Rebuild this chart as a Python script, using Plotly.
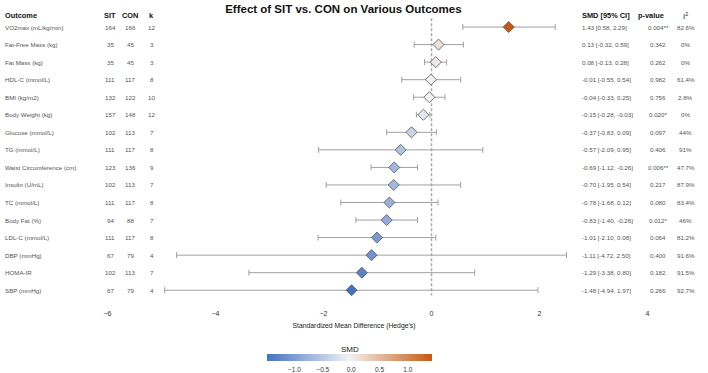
import plotly.graph_objects as go

outcomes = ["VO2max (mL/kg/min)", "Fat-Free Mass (kg)", "Fat Mass (kg)", "HDL-C (mmol/L)",
            "BMI (kg/m2)", "Body Weight (kg)", "Glucose (mmol/L)", "TG (mmol/L)",
            "Waist Circumference (cm)", "Insulin (U/mL)", "TC (mmol/L)", "Body Fat (%)",
            "LDL-C (mmol/L)", "DBP (mmHg)", "HOMA-IR", "SBP (mmHg)"]
sit_n = [164, 35, 35, 111, 132, 157, 102, 111, 123, 102, 111, 94, 111, 67, 102, 67]
con_n = [166, 45, 45, 117, 122, 148, 113, 117, 136, 113, 117, 88, 117, 79, 113, 79]
k_n = [12, 3, 3, 8, 10, 12, 7, 8, 9, 7, 8, 7, 8, 4, 7, 4]
smd = [1.43, 0.13, 0.08, -0.01, -0.04, -0.15, -0.37, -0.57, -0.69, -0.70, -0.78, -0.83,
       -1.01, -1.11, -1.29, -1.48]
ci_low = [0.58, -0.32, -0.13, -0.55, -0.33, -0.28, -0.83, -2.09, -1.12, -1.95, -1.68, -1.40,
          -2.10, -4.72, -3.38, -4.94]
ci_high = [2.29, 0.59, 0.28, 0.54, 0.25, -0.03, 0.09, 0.95, -0.26, 0.54, 0.12, -0.26,
           0.08, 2.50, 0.80, 1.97]
p_values = ["0.004**", "0.342", "0.262", "0.982", "0.756", "0.020*", "0.097", "0.406",
            "0.006**", "0.217", "0.080", "0.012*", "0.064", "0.400", "0.182", "0.266"]
i2_values = ["82.6%", "0%", "0%", "61.4%", "2.8%", "0%", "44%", "91%", "47.7%", "87.9%",
             "83.4%", "46%", "81.2%", "91.6%", "91.5%", "92.7%"]
x_ticks = [-6, -4, -2, 0, 2, 4]
cbar_ticks = [-1.0, -0.5, 0.0, 0.5, 1.0]

FONT = "Arial, Liberation Sans, sans-serif"
rows = list(range(len(outcomes)))
HEADER_Y = -0.64

# column x positions (data units)
X_OUT, X_SIT, X_CON, X_K = -7.94, -5.95, -5.58, -5.18
X_SMD, X_P_HEAD, X_P, X_I2 = 2.75, 4.06, 4.20, 4.71

fig = go.Figure()

fig.add_shape(type="line", x0=0, x1=0, y0=-0.5, y1=15.3, xref="x", yref="y",
              line=dict(color="#aaaaaa", width=1.5, dash="3px,2px"), layer="below")

fig.add_trace(go.Scatter(
    x=smd, y=rows, mode="markers",
    error_x=dict(type="data", symmetric=False,
                 array=[h - s for h, s in zip(ci_high, smd)],
                 arrayminus=[s - l for s, l in zip(smd, ci_low)],
                 color="#a0a0a0", thickness=1, width=3),
    marker=dict(symbol="diamond", size=8.5, color=smd,
                cmin=min(smd), cmax=max(smd),
                colorscale=[[0, "#4472C4"], [0.5, "#f2f2f2"], [1, "#C55A11"]],
                line=dict(color="#555555", width=0.8),
                showscale=True,
                colorbar=dict(orientation="h", lenmode="pixels", len=165, thickness=6.5,
                              x=0.494, xanchor="center", y=-0.1864, yanchor="top",
                              yref="paper", ypad=0, xpad=0, outlinewidth=0,
                              tickvals=cbar_ticks, tickformat=".1f",
                              ticks="outside", ticklen=4, tickcolor="rgba(255,255,255,0)",
                              tickfont=dict(size=6.5, color="#333", family=FONT))),
    hoverinfo="skip", showlegend=False))

def add_text(xpos, ys, texts, anchor, size=6.2, color="#555", bold=False, xref="x", yref="y"):
    for yv, t in zip(ys, texts):
        fig.add_annotation(x=xpos, y=yv, xref=xref, yref=yref, text=f"<b>{t}</b>" if bold else str(t),
                           showarrow=False, xanchor=anchor, yanchor="middle",
                           font=dict(size=size, color=color, family=FONT))

add_text(X_OUT, rows, outcomes, "left")
add_text(X_SIT, rows, sit_n, "center")
add_text(X_CON, rows, con_n, "center")
add_text(X_K, rows, k_n, "center")
add_text(X_SMD, rows, [f"{s:.2f} [{l:.2f}, {h:.2f}]" for s, l, h in zip(smd, ci_low, ci_high)], "left")
add_text(X_P, rows, p_values, "center")
add_text(X_I2, rows, i2_values, "center")

hdr = dict(size=7.4, color="#111", bold=True)
add_text(X_OUT, [HEADER_Y], ["Outcome"], "left", **hdr)
add_text(X_SIT, [HEADER_Y], ["SIT"], "center", **hdr)
add_text(X_CON, [HEADER_Y], ["CON"], "center", **hdr)
add_text(X_K, [HEADER_Y], ["k"], "center", **hdr)
add_text(X_SMD, [HEADER_Y], ["SMD [95% CI]"], "left", **hdr)
add_text(X_P_HEAD, [HEADER_Y], ["p-value"], "center", **hdr)
add_text(X_I2, [HEADER_Y], ["I<sup>2</sup>"], "center", size=7.6, color="#222")

# colorbar title
add_text(0.494, [-0.172], ["SMD"], "center", size=8, color="#222", xref="paper", yref="paper")

fig.update_layout(
    width=708, height=373,
    margin=dict(l=0, r=0, t=6, b=72),
    paper_bgcolor="white", plot_bgcolor="white",
    title=dict(text="<b>Effect of SIT vs. CON on Various Outcomes</b>", x=0.485, xanchor="center",
               y=0.988, yanchor="top", font=dict(size=11.5, color="#111", family=FONT)),
    xaxis=dict(range=[-7.99, 5.12], tickvals=x_ticks, showgrid=False, zeroline=False,
               showline=False, ticks="outside", ticklen=8, tickcolor="rgba(0,0,0,0)",
               automargin=False,
               tickfont=dict(size=7, color="#333", family=FONT),
               title=dict(text="Standardized Mean Difference (Hedge's)", standoff=6,
                          font=dict(size=6.8, color="#222", family=FONT))),
    yaxis=dict(range=[15.5, -1.2], visible=False, automargin=False),
    font=dict(family=FONT),
)

fig.write_html("out.html")
